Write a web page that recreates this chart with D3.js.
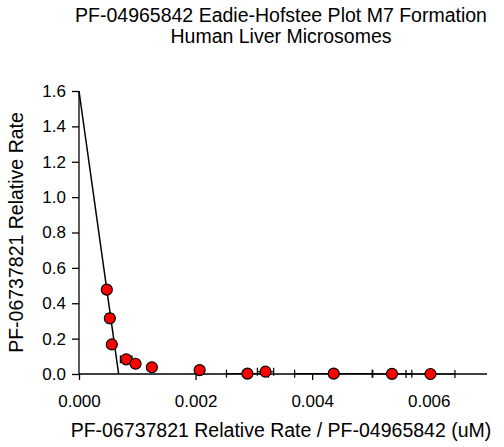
<!DOCTYPE html>
<html>
<head>
<meta charset="utf-8">
<script src="https://cdn.jsdelivr.net/npm/d3@7"></script>
<style>
  body { margin: 0; background: #fff; }
  text { font-family: "Liberation Sans", Arial, sans-serif; fill: #000; }
</style>
</head>
<body>
<svg id="chart"></svg>
<script>
const width = 504, height = 447;
const margin = { top: 91, right: 17, bottom: 73, left: 79 };

const titleLines = ['PF-04965842 Eadie-Hofstee Plot M7 Formation', 'Human Liver Microsomes'];
const xLabel = 'PF-06737821 Relative Rate / PF-04965842 (uM)';
const yLabel = 'PF-06737821 Relative Rate';

// x ticks and y ticks
const xTicks = [0, 0.002, 0.004, 0.006];
const yTicks = [0, 0.2, 0.4, 0.6, 0.8, 1.0, 1.2, 1.4, 1.6];

// observed points (v/S, v) with error bars
const xVals = [0.000477, 0.000529, 0.000563, 0.00081, 0.00097, 0.00125, 0.00207, 0.00289, 0.00320, 0.00437, 0.00537, 0.00603];
const yVals = [0.477, 0.315, 0.167, 0.083, 0.058, 0.038, 0.022, 0.002, 0.013, 0.002, 0.001, 0.000];
const xErrs = [0.00001, 0.00001, 0.00001, 0.0001, 0.00003, 0.00002, 0.00003, 0.00036, 0.00014, 0.00067, 0.00034, 0.00042];
const yErrs = [0.01, 0.025, 0.01, 0.005, 0.012, 0.006, 0.004, 0.002, 0.006, 0.002, 0.002, 0.002];

// fitted line: Vmax intercept and x intercept (Vmax/Km)
const fitX = [0, 0.00068];
const fitY = [1.6, 0];

const svg = d3.select('#chart').attr('width', width).attr('height', height);
const g = svg.append('g').attr('transform', `translate(${margin.left},${margin.top})`);
const innerW = width - margin.left - margin.right;
const innerH = height - margin.top - margin.bottom;

const x = d3.scaleLinear().domain([0, 0.007]).range([0, innerW]);
const y = d3.scaleLinear().domain([0, 1.6]).range([innerH, 0]);

// axes
const xAxis = g.append('g').attr('transform', `translate(0,${innerH})`)
  .call(d3.axisBottom(x).tickValues(xTicks).tickFormat(d3.format('.3f')).tickSize(6).tickPadding(15));
const yAxis = g.append('g')
  .call(d3.axisLeft(y).tickValues(yTicks).tickFormat(d3.format('.1f')).tickSize(7).tickPadding(6));
[xAxis, yAxis].forEach(a => {
  a.select('.domain').attr('stroke', '#000').attr('stroke-width', 1.3);
  a.selectAll('.tick line').attr('stroke', '#000').attr('stroke-width', 1.3);
  a.selectAll('.tick text').style('font-size', '17px').attr('fill', '#000');
});
xAxis.select('.domain').attr('d', `M0,0H${innerW}`);
yAxis.select('.domain').attr('d', `M0,${innerH}V0`);

// fitted line
const fit = fitX.map((d, i) => [d, fitY[i]]);
g.append('path')
  .attr('d', d3.line().x(d => x(d[0])).y(d => y(d[1]))(fit))
  .attr('fill', 'none').attr('stroke', '#000').attr('stroke-width', 1.5);

// error bars
const pts = xVals.map((d, i) => ({ x: d, y: yVals[i], ex: xErrs[i], ey: yErrs[i] }));
const eb = g.append('g').attr('stroke', '#000').attr('stroke-width', 1.2);
const cap = 4;
pts.forEach(p => {
  const cx = x(p.x), cy = y(p.y);
  eb.append('line').attr('x1', x(p.x - p.ex)).attr('x2', x(p.x + p.ex)).attr('y1', cy).attr('y2', cy);
  eb.append('line').attr('x1', x(p.x - p.ex)).attr('x2', x(p.x - p.ex)).attr('y1', cy - cap).attr('y2', cy + cap);
  eb.append('line').attr('x1', x(p.x + p.ex)).attr('x2', x(p.x + p.ex)).attr('y1', cy - cap).attr('y2', cy + cap);
  eb.append('line').attr('x1', cx).attr('x2', cx).attr('y1', y(p.y - p.ey)).attr('y2', y(p.y + p.ey));
  eb.append('line').attr('x1', cx - cap).attr('x2', cx + cap).attr('y1', y(p.y + p.ey)).attr('y2', y(p.y + p.ey));
  eb.append('line').attr('x1', cx - cap).attr('x2', cx + cap).attr('y1', y(p.y - p.ey)).attr('y2', y(p.y - p.ey));
});

// points
g.selectAll('circle.pt').data(pts).enter().append('circle')
  .attr('class', 'pt')
  .attr('cx', d => x(d.x)).attr('cy', d => y(d.y)).attr('r', 5.5)
  .attr('fill', '#ff0000').attr('stroke', '#000').attr('stroke-width', 1.2);

// titles
svg.selectAll('text.title').data(titleLines).enter().append('text')
  .attr('class', 'title')
  .attr('x', 281).attr('y', (d, i) => 22 + i * 21)
  .attr('text-anchor', 'middle').style('font-size', '19.5px').text(d => d);

svg.append('text').attr('x', 281).attr('y', 437).attr('text-anchor', 'middle')
  .style('font-size', '19.5px').text(xLabel);

svg.append('text').attr('transform', `translate(23,${margin.top + innerH / 2}) rotate(-90)`)
  .attr('text-anchor', 'middle').style('font-size', '19.5px').text(yLabel);
</script>
</body>
</html>
